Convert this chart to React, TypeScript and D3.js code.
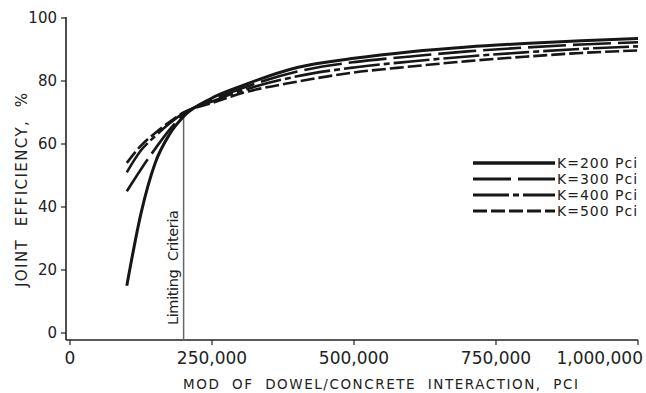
import React from "react";
import * as d3 from "d3";

const modValues = [100000, 125000, 150000, 175000, 200000, 250000, 300000, 400000, 500000, 600000, 700000, 800000, 900000, 1000000];
const k200 = [15, 38, 54, 63, 68.7, 74.6, 78.3, 84.3, 87.2, 89.3, 90.8, 91.9, 92.8, 93.5];
const k300 = [45, 52, 58.5, 64.5, 69.4, 74, 77.5, 83, 86, 87.8, 89.4, 90.6, 91.6, 92.3];
const k400 = [51, 58, 62.5, 66.5, 69.8, 73.5, 76.8, 81.5, 84.3, 86.2, 87.8, 89.1, 90.2, 91];
const k500 = [54, 59.5, 63.5, 67, 70, 73, 76, 79.8, 82.7, 84.6, 86.3, 87.7, 88.9, 89.7];
const seriesLabels = ["K=200 Pci", "K=300 Pci", "K=400 Pci", "K=500 Pci"];
const xTicks = [0, 250000, 500000, 750000, 1000000];
const xTickLabels = ["0", "250,000", "500,000", "750,000", "1,000,000"];
const yTicks = [0, 20, 40, 60, 80, 100];
const limitingValue = 200000;
const limitingLabel = "Limiting  Criteria";
const xTitle = "MOD  OF  DOWEL/CONCRETE  INTERACTION,  PCI";
const yTitle = "JOINT  EFFICIENCY,  %";

const series = [k200, k300, k400, k500];
const dashes = ["none", "38,7", "36,4,6,4", "14,4"];
const widths = [3, 2.6, 2.6, 2.6];
const FONT = "'DejaVu Sans', sans-serif";

export default function App() {
  const x = d3.scaleLinear().domain([0, 1000000]).range([70, 638]);
  const y = d3.scaleLinear().domain([0, 100]).range([333, 18]);
  const axisY = 340;
  const axisX = 66;
  const line = d3
    .line<[number, number]>()
    .x((d) => x(d[0]))
    .y((d) => y(d[1]))
    .curve(d3.curveMonotoneX);

  const legendY = [163, 179, 195, 211];
  const limX = x(limitingValue);
  const limTop = y(d3.mean(series.map((s) => s[modValues.indexOf(limitingValue)])) as number);

  return (
    <svg
      width={646}
      height={393}
      style={{ position: "absolute", left: 0, top: 0, background: "#fff" }}
      fontFamily={FONT}
    >
      <rect width={646} height={393} fill="#fff" />
      {/* axes */}
      <line x1={axisX} x2={axisX} y1={y(100) - 1} y2={axisY} stroke="#222" strokeWidth={1.6} />
      <line x1={axisX} x2={x(1000000)} y1={axisY} y2={axisY} stroke="#222" strokeWidth={1.6} />
      {yTicks.map((t) => (
        <g key={"y" + t}>
          <line x1={axisX - 5} x2={axisX} y1={y(t)} y2={y(t)} stroke="#222" strokeWidth={1.2} />
          <text x={axisX - 9} y={y(t)} textAnchor="end" dominantBaseline="central" fontSize={15} fill="#222">
            {t}
          </text>
        </g>
      ))}
      {xTicks.map((t, i) => (
        <g key={"x" + t}>
          <line x1={x(t)} x2={x(t)} y1={axisY} y2={axisY + 5} stroke="#222" strokeWidth={1.2} />
          <text
            x={i === xTicks.length - 1 ? x(t) + 5 : x(t)}
            y={364}
            textAnchor={i === xTicks.length - 1 ? "end" : "middle"}
            fontSize={17}
            fill="#222"
          >
            {xTickLabels[i]}
          </text>
        </g>
      ))}
      {/* titles */}
      <text
        x={183}
        y={389}
        fontSize={13.5}
        fill="#222"
        textLength={395}
        lengthAdjust="spacing"
        style={{ whiteSpace: "pre" }}
      >
        {xTitle}
      </text>
      <text
        transform={`translate(27,190) rotate(-90)`}
        textAnchor="middle"
        fontSize={15}
        fill="#222"
        textLength={194}
        lengthAdjust="spacing"
        style={{ whiteSpace: "pre" }}
      >
        {yTitle}
      </text>
      {/* limiting criteria */}
      <line x1={limX} x2={limX} y1={limTop} y2={axisY} stroke="#666" strokeWidth={1.5} />
      <text
        transform={`translate(178,325) rotate(-90)`}
        fontSize={14.5}
        fill="#222"
        textLength={115}
        lengthAdjust="spacing"
        style={{ whiteSpace: "pre" }}
      >
        {limitingLabel}
      </text>
      {/* curves */}
      {series.map((s, i) => (
        <path
          key={"s" + i}
          d={line(modValues.map((m, j) => [m, s[j]] as [number, number])) || ""}
          fill="none"
          stroke="#161616"
          strokeWidth={widths[i]}
          strokeDasharray={dashes[i]}
        />
      ))}
      {/* legend */}
      {seriesLabels.map((lab, i) => (
        <g key={"l" + i}>
          <line
            x1={473}
            x2={555}
            y1={legendY[i]}
            y2={legendY[i]}
            stroke="#161616"
            strokeWidth={i === 0 ? 3.5 : 3}
            strokeDasharray={dashes[i]}
          />
          <text
            x={557}
            y={legendY[i]}
            dominantBaseline="central"
            fontSize={14}
            letterSpacing={1}
            fill="#222"
          >
            {lab}
          </text>
        </g>
      ))}
    </svg>
  );
}
